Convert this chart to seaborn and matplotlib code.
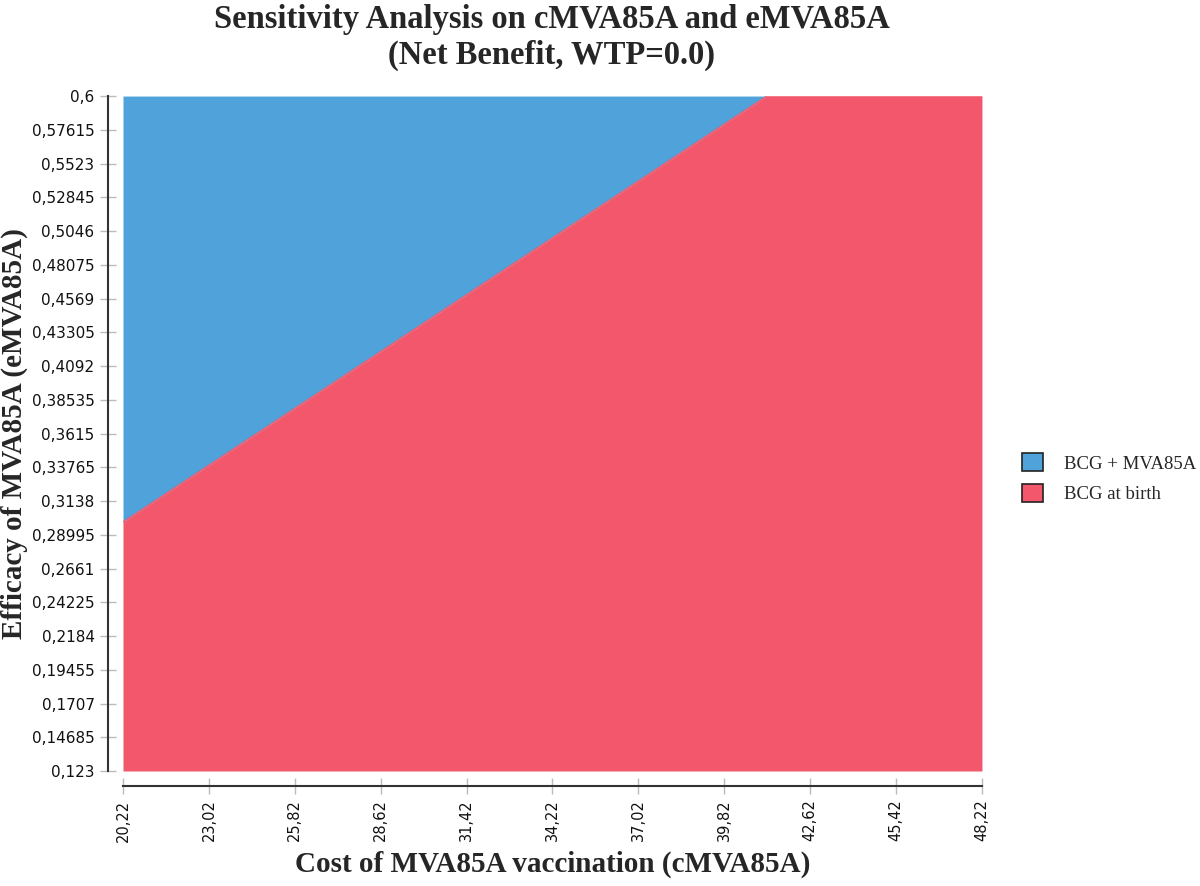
import numpy as np
import pandas as pd
import matplotlib
matplotlib.use("Agg")
import matplotlib.pyplot as plt
import seaborn as sns
from matplotlib.patches import Patch

# Data
cost_ticks = [20.22, 23.02, 25.82, 28.62, 31.42, 34.22, 37.02, 39.82, 42.62, 45.42, 48.22]
eff_ticks = [0.6, 0.57615, 0.5523, 0.52845, 0.5046, 0.48075, 0.4569, 0.43305, 0.4092,
             0.38535, 0.3615, 0.33765, 0.3138, 0.28995, 0.2661, 0.24225, 0.2184,
             0.19455, 0.1707, 0.14685, 0.123]

# threshold line between the two strategies
boundary_cost = [20.22, 41.2, 48.22]
boundary_eff = [0.299, 0.6, 0.6]

strategies = ["BCG + MVA85A", "BCG at birth"]
colors = ["#4FA3DA", "#F2576B"]

df = pd.DataFrame({"cost": boundary_cost, "eff": boundary_eff})

sns.set_style("white")
plt.rcParams["font.family"] = ["DejaVu Sans"]

fig = plt.figure(figsize=(12, 8.86), dpi=100)
ax = fig.add_axes([0.1025, 0.1298, 0.7158, 0.7618])

# spines first (set_position resets the ticks)
for side in ["top", "right"]:
    ax.spines[side].set_visible(False)
for side in ["left", "bottom"]:
    ax.spines[side].set_position(("outward", 11))
    ax.spines[side].set_color("#333333")
    ax.spines[side].set_linewidth(1.5)

eff_min, eff_max = min(eff_ticks), max(eff_ticks)

# regions
ax.fill_between(df["cost"], df["eff"], eff_max, color=colors[0], linewidth=0)
ax.fill_between(df["cost"], eff_min, df["eff"], color=colors[1], linewidth=0)
sns.lineplot(data=df, x="cost", y="eff", ax=ax, color=colors[1], linewidth=0.8)

ax.set_xlim(min(cost_ticks), max(cost_ticks))
ax.set_ylim(eff_min, eff_max)

ax.set_xticks(cost_ticks)
ax.set_xticklabels([f"{v:.2f}".replace(".", ",") for v in cost_ticks], rotation=90)
ax.set_yticks(eff_ticks)
ax.set_yticklabels([f"{v:g}".replace(".", ",") for v in eff_ticks])

ax.tick_params(axis="both", direction="inout", length=11, width=1,
               color="#bbbbbb", labelsize=11, labelcolor="#111111", pad=4,
               bottom=True, left=True)
ax.tick_params(axis="x", labelsize=10.5)
ax.grid(False)

serif = ["Liberation Serif", "DejaVu Serif"]
ax.set_xlabel("Cost of MVA85A vaccination (cMVA85A)", family=serif,
              fontsize=21, fontweight="bold")
ax.set_ylabel("Efficacy of MVA85A (eMVA85A)", family=serif,
              fontsize=21, fontweight="bold")
ax.xaxis.set_label_coords(0.5, -0.118)
ax.yaxis.set_label_coords(-0.111, 0.5)

fig.text(0.46, 0.996, "Sensitivity Analysis on cMVA85A and eMVA85A\n(Net Benefit, WTP=0.0)",
         ha="center", va="top", family=serif, fontsize=23.5, fontweight="bold",
         linespacing=1.22)

handles = [Patch(facecolor=c, edgecolor="#222222", linewidth=1.2, label=s)
           for c, s in zip(colors, strategies)]
leg = fig.legend(handles=handles, loc="center left", bbox_to_anchor=(0.838, 0.46),
                 frameon=False, prop={"family": serif, "size": 13.5},
                 handlelength=1.1, handleheight=1.1, handletextpad=1.1,
                 labelspacing=0.6)

fig.savefig("out.png", dpi=100)
